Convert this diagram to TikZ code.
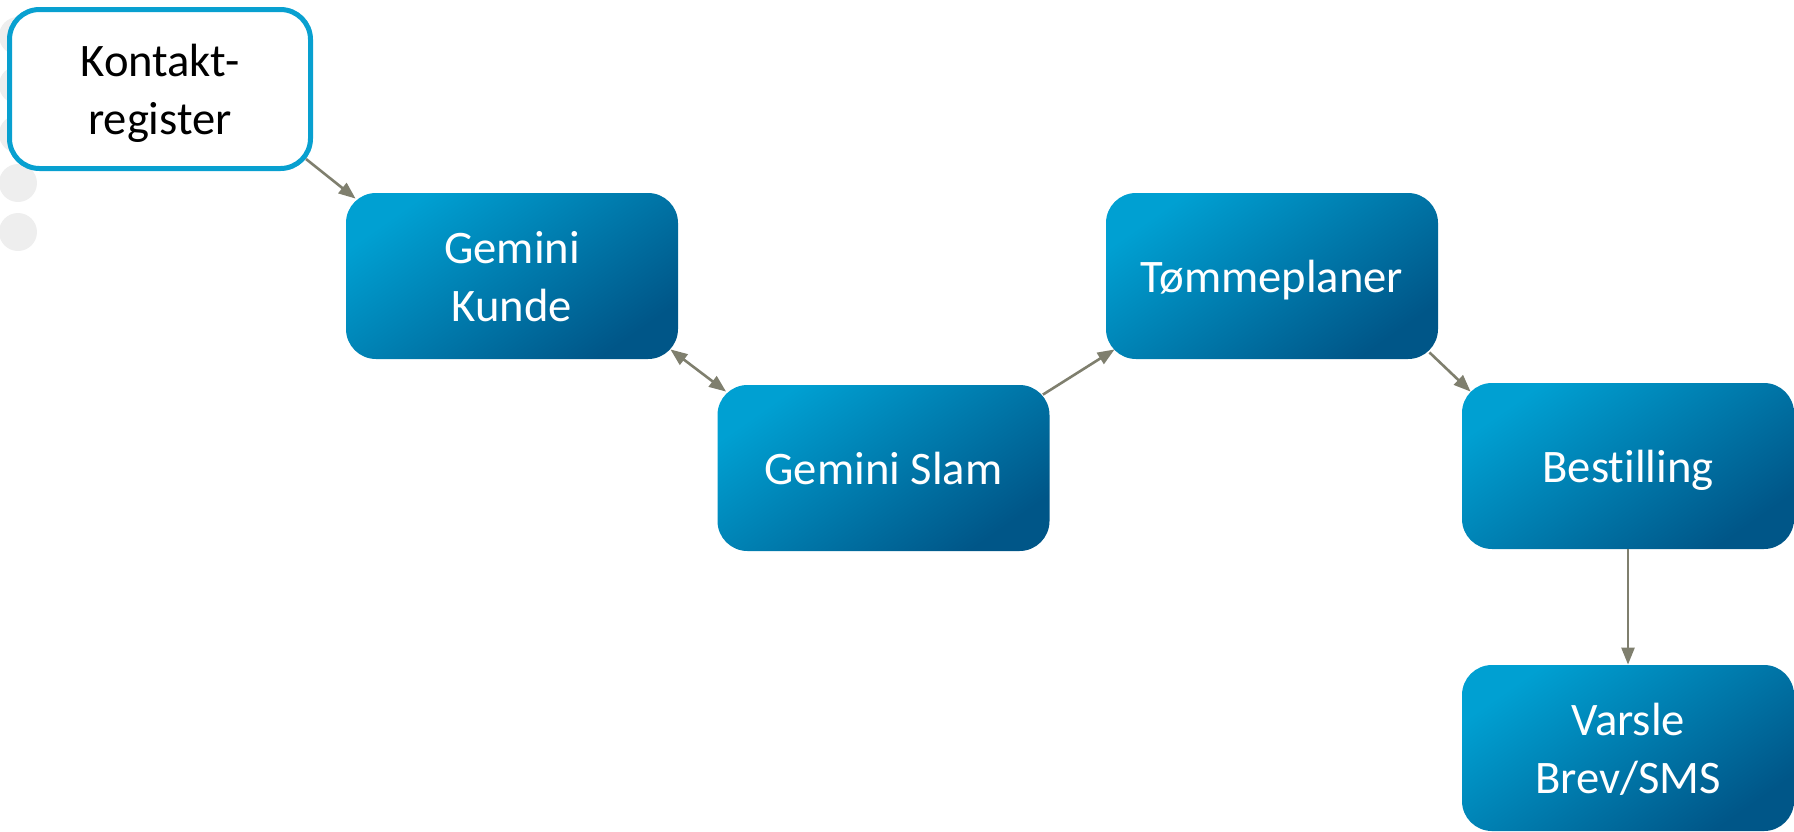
\documentclass[tikz,border=0pt]{standalone}
\usepackage{fontspec}
\setmainfont{Carlito}[RawFeature={-liga;-clig;-calt}]
\usetikzlibrary{arrows.meta,calc}
\definecolor{boxlight}{RGB}{0,160,210}
\definecolor{boxmid}{RGB}{0,128,178}
\definecolor{boxdark}{RGB}{0,86,136}
\definecolor{edgecol}{RGB}{127,127,110}
\definecolor{regcol}{RGB}{8,160,208}
\definecolor{dotcol}{RGB}{238,238,238}
\tikzset{
  blockbox/.style={rectangle, rounded corners=15pt, minimum width=166pt, minimum height=83pt,
    inner sep=0pt, top color=boxlight, middle color=boxmid, bottom color=boxdark, shading angle=35,
    text=white, align=center, text depth=0pt, font=\fontsize{23.3}{29}\selectfont},
  regbox/.style={rectangle, rounded corners=15pt, minimum width=150.5pt, minimum height=79.5pt,
    inner sep=0pt, draw=regcol, line width=2.5pt, fill=white,
    text=black, align=center, text depth=0pt, font=\fontsize{23.3}{29}\selectfont},
  link/.style={draw=edgecol, line width=1.3pt},
}
\begin{document}
\begin{tikzpicture}[x=0.5pt,y=-0.5pt,>={Triangle[length=8.5pt,width=6.5pt]},line join=bevel]
\useasboundingbox (0,0) rectangle (1794,831);
%%
  % Dots at the left edge
  \fill [dotcol] (18,36) circle (19);
  \fill [dotcol] (18,85) circle (19);
  \fill [dotcol] (18,134) circle (19);
  \fill [dotcol] (18,183) circle (19);
  \fill [dotcol] (18,232) circle (19);
  % Node: Kontaktregister
  \node [regbox] (kontakt) at (160,89) {Kontakt-\\register};
  % Node: Gemini Kunde
  \node [blockbox] (kunde) at (512,276) {Gemini\\Kunde};
  % Node: Gemini Slam
  \node [blockbox] (slam) at (883.5,468) {Gemini Slam};
  % Node: Tommeplaner
  \node [blockbox] (tomme) at (1272,276) {Tømmeplaner};
  % Node: Bestilling
  \node [blockbox] (bestilling) at (1628,466) {Bestilling};
  % Node: Varsle
  \node [blockbox] (varsle) at (1628,748) {Varsle\\Brev/SMS};
%
  % Edge: kontakt -> kunde
  \draw [link,->] ($(kontakt.south east)+(-7,-12)$) -- ($(kunde.north west)+(10,6)$);
  % Edge: kunde <-> slam
  \draw [link,<->] ($(kunde.south east)+(-8,-10)$) -- ($(slam.north west)+(9,7)$);
  % Edge: slam -> tomme
  \draw [link,->] ($(slam.north east)+(-7,10)$) -- ($(tomme.south west)+(9,-10)$);
  % Edge: tomme -> bestilling
  \draw [link,->] ($(tomme.south east)+(-9,-7)$) -- ($(bestilling.north west)+(9,9)$);
  % Edge: bestilling -> varsle
  \draw [link,->] (bestilling.south) -- (varsle.north);
%
\end{tikzpicture}
\end{document}
